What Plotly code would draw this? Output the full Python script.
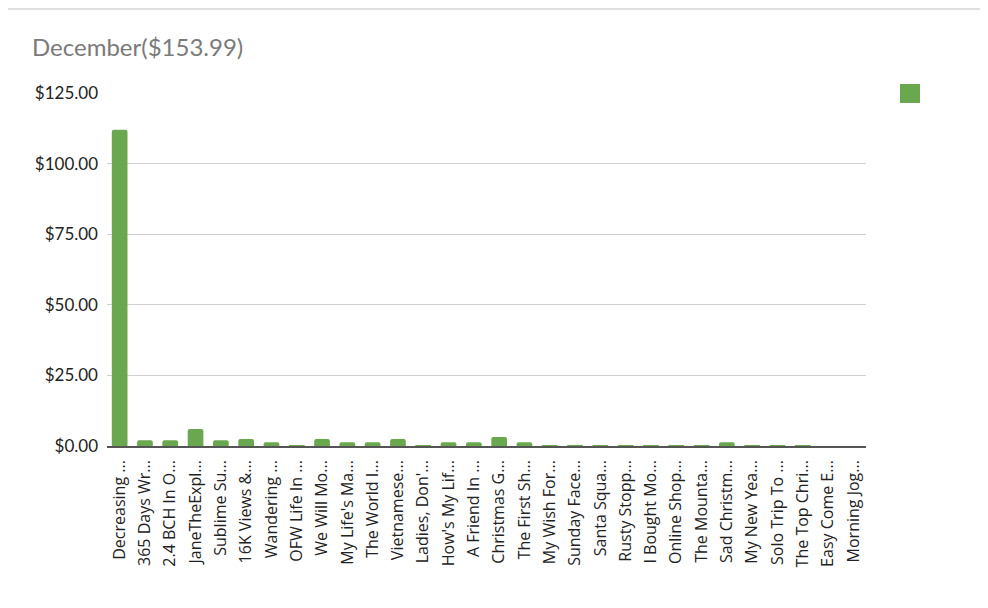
import plotly.graph_objects as go

categories = [
    "Decreasing ...", "365 Days Wr...", "2.4 BCH In O...", "JaneTheExpl...", "Sublime Su...",
    "16K Views &...", "Wandering ...", "OFW Life In ...", "We Will Mo...", "My Life's Ma...",
    "The World I...", "Vietnamese...", "Ladies, Don'...", "How's My Lif...", "A Friend In ...",
    "Christmas G...", "The First Sh...", "My Wish For...", "Sunday Face...", "Santa Squa...",
    "Rusty Stopp...", "I Bought Mo...", "Online Shop...", "The Mounta...", "Sad Christm...",
    "My New Yea...", "Solo Trip To ...", "The Top Chri...", "Easy Come E...", "Morning Jog...",
]
values = [
    112.0, 2.0, 2.0, 6.0, 2.0,
    2.5, 1.3, 0.2, 2.5, 1.3,
    1.3, 2.5, 0.2, 1.3, 1.3,
    3.2, 1.3, 0.2, 0.2, 0.1,
    0.2, 0.2, 0.2, 0.2, 1.3,
    0.2, 0.2, 0.2, 0.0, 0.0,
]
tick_vals = [0, 25, 50, 75, 100, 125]
tick_text = ["$0.00", "$25.00", "$50.00", "$75.00", "$100.00", "$125.00"]
title_text = "December($153.99)"

GREEN = "#6aa84f"
FONT = "Lato, Carlito, 'Open Sans', sans-serif"

# page body has an 8px margin; plot area target: x 107..866, y 93..446 (window coords)
L, R, T, B = 99, 130, 85, 170
PW, PH = 988 - L - R, 608 - T - B
X0 = L + 8

fig = go.Figure(
    go.Bar(x=categories, y=values, marker=dict(color=GREEN, line=dict(width=0)), showlegend=False)
)

fig.update_layout(
    width=988, height=608,
    margin=dict(l=L, r=R, t=T, b=B),
    paper_bgcolor="white", plot_bgcolor="white",
    bargap=0.38,
    barcornerradius=2,
    font=dict(family=FONT, size=16, color="#222222"),
    title=dict(text=title_text, x=24 / 988, xanchor="left", y=1 - 40 / 608, yanchor="middle",
               font=dict(family=FONT, size=24, color="#7a7a7a")),
    xaxis=dict(
        tickangle=-90, showgrid=False, showline=True, linecolor="#555555", linewidth=1.5,
        ticks="", ticklabelstandoff=6,
        tickfont=dict(family="'Open Sans', sans-serif", size=16, color="#222222"),
    ),
    yaxis=dict(
        range=[0, 125], tickvals=tick_vals, ticktext=tick_text, showgrid=True,
        gridcolor="#d0d0d0", gridwidth=1.2, zeroline=False, ticks="", showline=False,
        ticklabelstandoff=8,
        tickfont=dict(family=FONT, size=17, color="#222222"),
    ),
    shapes=[
        dict(type="rect", xref="paper", yref="paper",
             x0=(900 - X0) / PW, x1=(920 - X0) / PW,
             y0=(446 - 103) / PH, y1=(446 - 84) / PH,
             fillcolor=GREEN, line=dict(width=0)),
        dict(type="line", xref="paper", yref="paper",
             x0=-L / PW, x1=(988 - L) / PW,
             y0=(PH + T - 1) / PH, y1=(PH + T - 1) / PH,
             line=dict(color="#e0e0e0", width=2)),
    ],
)

fig.write_html("out.html")
